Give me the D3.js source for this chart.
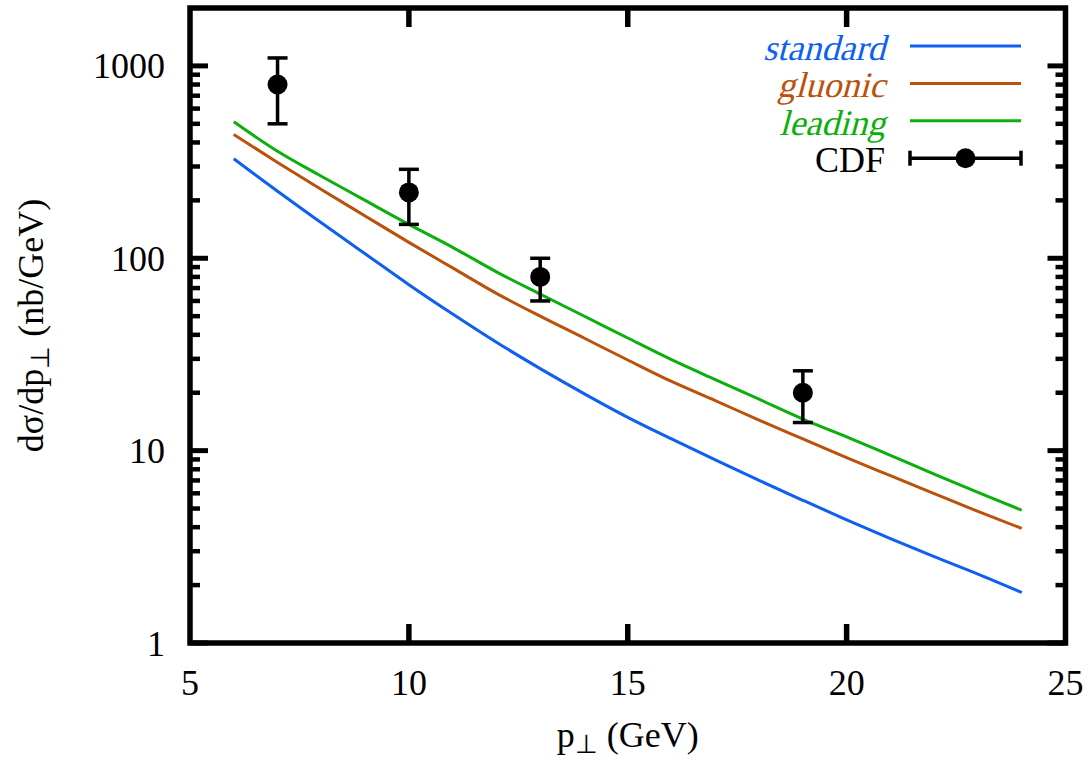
<!DOCTYPE html>
<html>
<head>
<meta charset="utf-8">
<script src="https://cdn.jsdelivr.net/npm/d3@7"></script>
<style>
  html, body { margin: 0; padding: 0; background: #fff; }
  svg { display: block; }
  text { font-family: "Liberation Serif", "Times New Roman", serif; fill: #000; }
</style>
</head>
<body>
<svg id="chart" width="1088" height="761"></svg>
<script>
// Transverse momentum grid for the model curves (GeV)
const pt = [6, 7, 8, 9, 10, 11, 12, 13, 14, 15, 16, 17, 18, 19, 20, 21, 22, 23, 24];

// dσ/dp⊥ predictions (nb/GeV)
const standard = [329, 223, 153, 105.5, 72.9, 51.3, 36.6, 26.7, 19.8, 14.9, 11.5, 8.95, 7.0, 5.52, 4.37, 3.49, 2.81, 2.28, 1.83];
const gluonic  = [440, 315, 228, 166, 121, 89.1, 65.7, 50.0, 38.5, 29.6, 22.9, 18.2, 14.4, 11.5, 9.19, 7.41, 5.98, 4.83, 3.94];
const leading  = [513, 360, 267, 200, 150, 114, 85.0, 65.1, 50.1, 38.5, 29.7, 23.4, 18.5, 14.6, 11.8, 9.45, 7.55, 6.06, 4.90];

// CDF measurements with error bars
const cdfPt  = [7, 10, 13, 19];
const cdfVal = [800, 220, 80, 20];
const cdfLo  = [500, 150, 60, 14];
const cdfHi  = [1100, 290, 100, 26];

// Axis ticks
const xTicks = [5, 10, 15, 20, 25];
const yTicks = [1, 10, 100, 1000];
const yTickLabels = ["1", "10", "100", "1000"];

const seriesNames  = ["standard", "gluonic", "leading"];
const seriesColors = ["#0f5ff0", "#bb520c", "#0caf0c"];
const seriesData   = [standard, gluonic, leading];

const svg = d3.select("#chart");
const L = 190, R = 1065.5, T = 8, B = 643;

const x = d3.scaleLinear().domain([5, 25]).range([L, R]);
const y = d3.scaleLog().domain([1, 2000]).range([B, T]);

// Minor ticks on the log axis: 2..9 times each decade
const yMinor = [];
[1, 10, 100, 1000].forEach(d => {
  for (let k = 2; k <= 9; k++) { const v = d * k; if (v < 2000) yMinor.push(v); }
});

const gTicks = svg.append("g").attr("stroke", "#000");

// y ticks (left and right, pointing inward)
gTicks.selectAll(".ymaj").data(yTicks).join("g").each(function(d) {
  const g = d3.select(this);
  g.append("line").attr("x1", L).attr("x2", L + 18).attr("y1", y(d)).attr("y2", y(d)).attr("stroke-width", 5);
  g.append("line").attr("x1", R).attr("x2", R - 18).attr("y1", y(d)).attr("y2", y(d)).attr("stroke-width", 5);
});
gTicks.selectAll(".ymin").data(yMinor).join("g").each(function(d) {
  const g = d3.select(this);
  g.append("line").attr("x1", L).attr("x2", L + 10).attr("y1", y(d)).attr("y2", y(d)).attr("stroke-width", 4.5);
  g.append("line").attr("x1", R).attr("x2", R - 10).attr("y1", y(d)).attr("y2", y(d)).attr("stroke-width", 4.5);
});

// x ticks (bottom and top, pointing inward)
gTicks.selectAll(".xmaj").data(xTicks.slice(1, -1)).join("g").each(function(d) {
  const g = d3.select(this);
  g.append("line").attr("x1", x(d)).attr("x2", x(d)).attr("y1", B).attr("y2", B - 19).attr("stroke-width", 5.5);
  g.append("line").attr("x1", x(d)).attr("x2", x(d)).attr("y1", T).attr("y2", T + 19).attr("stroke-width", 5.5);
});

// Frame
svg.append("rect")
  .attr("x", L).attr("y", T).attr("width", R - L).attr("height", B - T)
  .attr("fill", "none").attr("stroke", "#000").attr("stroke-width", 5.5)
  .attr("stroke-linejoin", "miter");

// Tick labels
svg.append("g").selectAll("text").data(yTicks).join("text")
  .attr("x", 165).attr("y", d => y(d) + 12.5)
  .attr("text-anchor", "end").attr("font-size", 36)
  .text((d, i) => yTickLabels[i]);

svg.append("g").selectAll("text").data(xTicks).join("text")
  .attr("x", d => x(d)).attr("y", 695)
  .attr("text-anchor", "middle").attr("font-size", 36)
  .text(d => d);

// Axis titles
const xt = svg.append("text").attr("x", (L + R) / 2).attr("y", 747)
  .attr("text-anchor", "middle").attr("font-size", 36);
xt.append("tspan").text("p");
xt.append("tspan").attr("font-size", 26).attr("dy", 6).text("⊥");
xt.append("tspan").attr("dy", -6).text(" (GeV)");

const yt = svg.append("text")
  .attr("transform", `translate(43,${(T + B) / 2}) rotate(-90)`)
  .attr("text-anchor", "middle").attr("font-size", 36);
yt.append("tspan").text("dσ/dp");
yt.append("tspan").attr("font-size", 26).attr("dy", 6).text("⊥");
yt.append("tspan").attr("dy", -6).text(" (nb/GeV)");

// Model curves
const line = d3.line()
  .x((d, i) => x(pt[i]))
  .y(d => y(d))
  .curve(d3.curveMonotoneX);

svg.append("g").selectAll("path").data(seriesData).join("path")
  .attr("d", d => line(d))
  .attr("fill", "none")
  .attr("stroke", (d, i) => seriesColors[i])
  .attr("stroke-width", 3);

// CDF data points with error bars
const gData = svg.append("g").attr("stroke", "#000").attr("stroke-width", 3.5);
cdfPt.forEach((p, i) => {
  gData.append("line").attr("x1", x(p)).attr("x2", x(p)).attr("y1", y(cdfLo[i])).attr("y2", y(cdfHi[i]));
  gData.append("line").attr("x1", x(p) - 10).attr("x2", x(p) + 10).attr("y1", y(cdfLo[i])).attr("y2", y(cdfLo[i]));
  gData.append("line").attr("x1", x(p) - 10).attr("x2", x(p) + 10).attr("y1", y(cdfHi[i])).attr("y2", y(cdfHi[i]));
});
svg.append("g").selectAll("circle").data(cdfPt).join("circle")
  .attr("cx", d => x(d)).attr("cy", (d, i) => y(cdfVal[i]))
  .attr("r", 10).attr("fill", "#000");

// Legend (model names slanted as serif oblique)
const legX = 885, legL1 = 910, legL2 = 1021, legY0 = 46, legDy = 37.4;
const leg = svg.append("g");
seriesNames.forEach((name, i) => {
  const yy = legY0 + i * legDy;
  leg.append("text")
    .attr("transform", `translate(${legX},${yy + 14}) skewX(-15)`)
    .attr("text-anchor", "end").attr("font-size", 36)
    .style("fill", seriesColors[i]).text(name);
  leg.append("line").attr("x1", legL1).attr("x2", legL2).attr("y1", yy).attr("y2", yy)
    .attr("stroke", seriesColors[i]).attr("stroke-width", 3);
});
{
  const yy = legY0 + 3 * legDy;
  leg.append("text").attr("x", legX).attr("y", yy + 14)
    .attr("text-anchor", "end").attr("font-size", 36).text("CDF");
  const g = leg.append("g").attr("stroke", "#000").attr("stroke-width", 3.5);
  g.append("line").attr("x1", legL1).attr("x2", legL2).attr("y1", yy).attr("y2", yy);
  g.append("line").attr("x1", legL1).attr("x2", legL1).attr("y1", yy - 7.5).attr("y2", yy + 7.5);
  g.append("line").attr("x1", legL2).attr("x2", legL2).attr("y1", yy - 7.5).attr("y2", yy + 7.5);
  leg.append("circle").attr("cx", (legL1 + legL2) / 2).attr("cy", yy).attr("r", 10).attr("fill", "#000");
}
</script>
</body>
</html>
